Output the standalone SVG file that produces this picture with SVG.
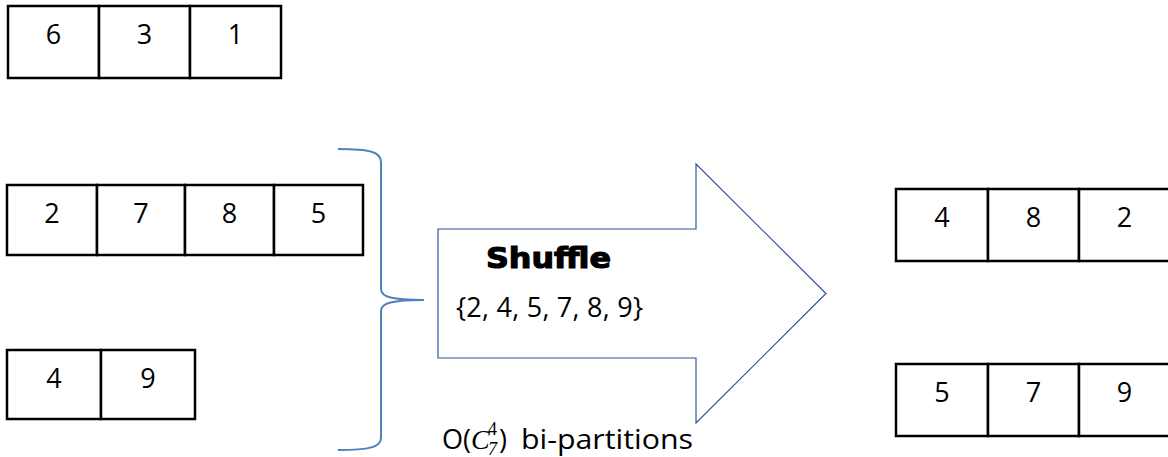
<svg xmlns="http://www.w3.org/2000/svg" width="1168" height="457" viewBox="0 0 1168 457">
<style>
.cell{fill:#fff;stroke:#000;stroke-width:2.5}
.num{font-family:"Open Sans","Liberation Sans",sans-serif;font-size:27px;fill:#000;text-anchor:middle}
.txt{font-family:"Open Sans","Liberation Sans",sans-serif;font-size:27px;fill:#000}
.math{font-family:"Liberation Serif","DejaVu Serif",serif;fill:#000}
.brace{fill:none;stroke:#4F81BD;stroke-width:2}
.arrow{fill:#fff;stroke:#2F5597;stroke-width:1.2}
</style>
<rect width="1168" height="457" fill="#fff"/>
<g id="array-631">
<rect class="cell" x="8" y="6" width="91" height="72"/>
<rect class="cell" x="99" y="6" width="91" height="72"/>
<rect class="cell" x="190" y="6" width="91" height="72"/>
<text class="num" x="53.5" y="44">6</text>
<text class="num" x="144.5" y="44">3</text>
<text class="num" x="235.5" y="44">1</text>
</g>
<g id="array-2785">
<rect class="cell" x="7" y="185" width="90" height="70"/>
<rect class="cell" x="97" y="185" width="88" height="70"/>
<rect class="cell" x="185" y="185" width="89" height="70"/>
<rect class="cell" x="274" y="185" width="89" height="70"/>
<text class="num" x="52" y="223">2</text>
<text class="num" x="141" y="223">7</text>
<text class="num" x="229.5" y="223">8</text>
<text class="num" x="318.5" y="223">5</text>
</g>
<g id="array-49">
<rect class="cell" x="7" y="350" width="94" height="69"/>
<rect class="cell" x="101" y="350" width="94" height="69"/>
<text class="num" x="54" y="388">4</text>
<text class="num" x="148" y="388">9</text>
</g>
<g id="connectors">
<path class="brace" d="M338,149 C370,149 381,152 381,162 L381,289 C381,297 392,300 424,300 C392,300 381,303 381,311 L381,438 C381,447 370,450 338,450"/>
</g>
<g id="shuffle">
<polygon class="arrow" points="438,229 696,229 696,164 826,293.5 696,423 696,358 438,358"/>
<text x="548.5" y="268" text-anchor="middle" font-family="'DejaVu Sans','Liberation Sans',sans-serif" font-weight="bold" font-size="28" stroke="#000" stroke-width="1.1" textLength="125" lengthAdjust="spacingAndGlyphs">Shuffle</text>
<text class="txt" x="456" y="317" textLength="187" lengthAdjust="spacing">{2, 4, 5, 7, 8, 9}</text>
</g>
<g id="complexity">
<text class="txt" x="442" y="449" font-size="29">O(</text>
<text class="math" x="471" y="449" font-style="italic" font-size="28">C</text>
<text class="math" x="488" y="435" font-size="18">4</text>
<text class="math" x="488" y="455" font-style="italic" font-size="18">7</text>
<text class="txt" x="499" y="449" font-size="29">)</text>
<text class="txt" x="521" y="449" font-size="29" textLength="172" lengthAdjust="spacingAndGlyphs">bi-partitions</text>
</g>
<g id="array-482">
<rect class="cell" x="896" y="189" width="92" height="72"/>
<rect class="cell" x="988" y="189" width="91" height="72"/>
<rect class="cell" x="1079" y="189" width="91" height="72"/>
<text class="num" x="942" y="227">4</text>
<text class="num" x="1033.5" y="227">8</text>
<text class="num" x="1124.5" y="227">2</text>
</g>
<g id="array-579">
<rect class="cell" x="896" y="364" width="92" height="72"/>
<rect class="cell" x="988" y="364" width="91" height="72"/>
<rect class="cell" x="1079" y="364" width="91" height="72"/>
<text class="num" x="942" y="402">5</text>
<text class="num" x="1033.5" y="402">7</text>
<text class="num" x="1124.5" y="402">9</text>
</g>
</svg>
